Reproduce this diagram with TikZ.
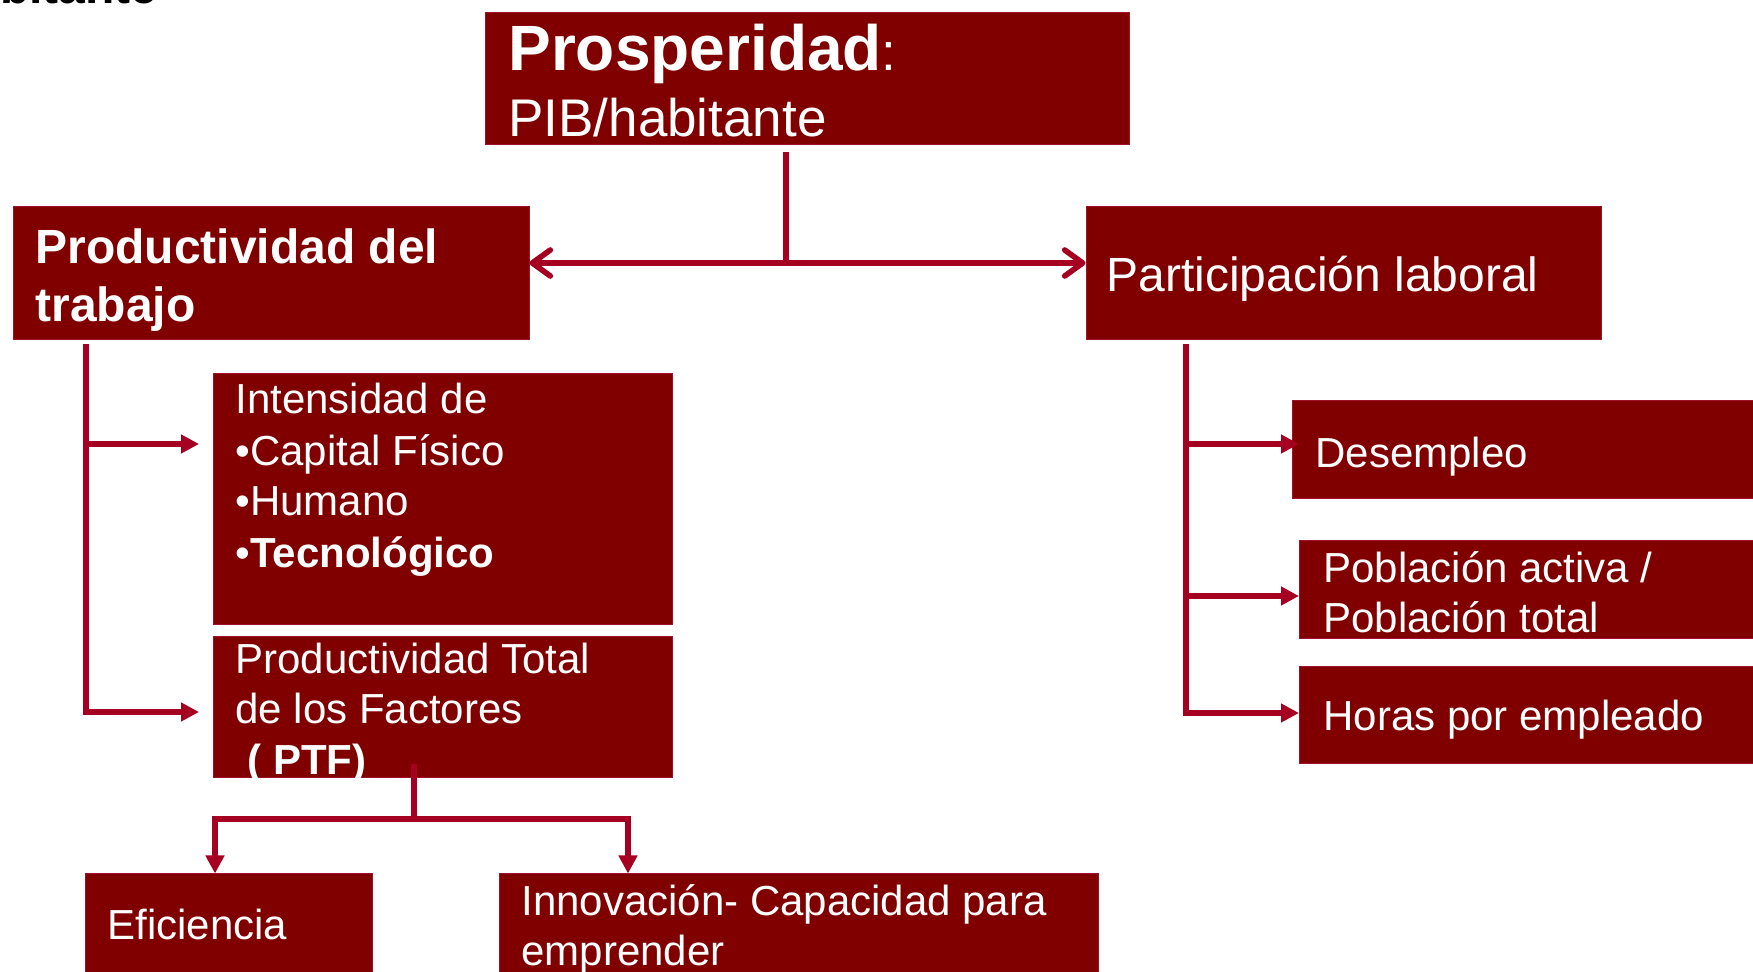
\documentclass[tikz,border=0pt]{standalone}
\usepackage{fontspec}
\setmainfont{Liberation Sans}
\usetikzlibrary{arrows.meta}
\definecolor{boxfill}{HTML}{800000}
\definecolor{boxline}{HTML}{A0102E}
\definecolor{conncol}{HTML}{A50021}
\begin{document}
\begin{tikzpicture}[x=0.5pt,y=-0.5pt,
  box/.style={draw=boxline, fill=boxfill, line width=0.5pt, inner sep=0pt, rectangle},
  txt/.style={text=white, inner sep=0pt, anchor=base west, font=\fontsize{21}{25}\selectfont},
  conn/.style={draw=conncol, line width=2.8pt},
  tri/.style={-{Triangle[length=9pt,width=9pt]}},
  barb/.style={{Straight Barb[length=9pt,width=13pt,round]}-{Straight Barb[length=9pt,width=13pt,round]}}
]
\useasboundingbox (0,0) rectangle (1753,972);
\fill[white] (0,0) rectangle (1753,972);
\clip (0,0) rectangle (1753,972);

% cut-off title at top left
\node[anchor=base east, inner sep=0pt, font=\fontsize{24}{28}\selectfont\bfseries] (hdr) at (158,4) {habitante};

% boxes
\node[box, minimum width=322pt, minimum height=66pt] (top) at (807,79) {};
\node[box, minimum width=258pt, minimum height=66.5pt] (prod) at (271,273.5) {};
\node[box, minimum width=257.5pt, minimum height=66.5pt] (part) at (1343.5,273.5) {};
\node[box, minimum width=229.5pt, minimum height=125.5pt] (inten) at (443,499.5) {};
\node[box, minimum width=229.5pt, minimum height=70.5pt] (ptf) at (443,707.5) {};
\node[box, minimum width=239pt, minimum height=49pt] (desem) at (1531,450) {};
\node[box, minimum width=235.5pt, minimum height=49pt] (pobl) at (1534.5,590) {};
\node[box, minimum width=235.5pt, minimum height=48.5pt] (horas) at (1534.5,715.5) {};
\node[box, minimum width=143.5pt, minimum height=63pt] (efic) at (228.5,937) {};
\node[box, minimum width=299.5pt, minimum height=63pt] (innov) at (798.5,937) {};

% texts
\node[txt, font=\fontsize{32}{38}\selectfont\bfseries] (t1) at (508,71) {Prosperidad{\fontsize{26.5}{30}\selectfont\mdseries :}};
\node[txt, font=\fontsize{26.5}{30}\selectfont] (t2) at (508,137) {PIB/habitante};
\node[txt, font=\fontsize{24}{28}\selectfont\bfseries] (t3) at (35,264) {Productividad del};
\node[txt, font=\fontsize{24}{28}\selectfont\bfseries] (t4) at (35,322) {trabajo};
\node[txt, font=\fontsize{24}{28}\selectfont] (t5) at (1106,292) {Participación laboral};
\node[txt] (t6) at (235,414) {Intensidad de};
\node[txt] (t7) at (235,466) {\textbullet Capital Físico};
\node[txt] (t8) at (235,516) {\textbullet Humano};
\node[txt] (t9) at (235,568) {\textbullet\textbf{Tecnológico}};
\node[txt] (t10) at (235,674) {Productividad Total};
\node[txt] (t11) at (235,724) {de los Factores};
\node[txt] (t12) at (247,775) {\textbf{( PTF)}};
\node[txt] (t13) at (1315,468) {Desempleo};
\node[txt] (t14) at (1323,583) {Población activa /};
\node[txt] (t15) at (1323,633) {Población total};
\node[txt] (t16) at (1323,731) {Horas por empleado};
\node[txt] (t17) at (107,940) {Eficiencia};
\node[txt] (t18) at (521,916) {Innovación- Capacidad para};
\node[txt] (t19) at (521,966) {emprender};

% connectors: top
\coordinate (topout) at (786,152);
\coordinate (tj) at (786,263);
\draw[conn] (topout) -- (tj);
\draw[conn, barb] (tj -| prod.east) -- (tj -| part.west);

% left branch
\coordinate (lt) at (86,344);
\coordinate (lb) at (86,712);
\coordinate (la1) at (199,444);
\coordinate (la2) at (199,712);
\draw[conn, tri] (lt) -- (lb) -- (la2);
\draw[conn, tri] (lt |- la1) -- (la1);

% right branch
\coordinate (rt) at (1186,344);
\coordinate (rb) at (1186,713);
\coordinate (ra1) at (1299,444);
\coordinate (ra2) at (1299,596);
\coordinate (ra3) at (1299,713);
\draw[conn, tri] (rt) -- (rb) -- (ra3);
\draw[conn, tri] (rt |- ra1) -- (ra1);
\draw[conn, tri] (rt |- ra2) -- (ra2);

% bottom branch
\coordinate (bt) at (414,764);
\coordinate (bj) at (414,819);
\coordinate (bl) at (215,819);
\coordinate (br) at (628,819);
\draw[conn] (bt) -- (bj);
\draw[conn] ([xshift=-1.4pt]bl) -- ([xshift=1.4pt]br);
\draw[conn, tri] (bl) -- (bl |- efic.north);
\draw[conn, tri] (br) -- (br |- innov.north);
\end{tikzpicture}
\end{document}
